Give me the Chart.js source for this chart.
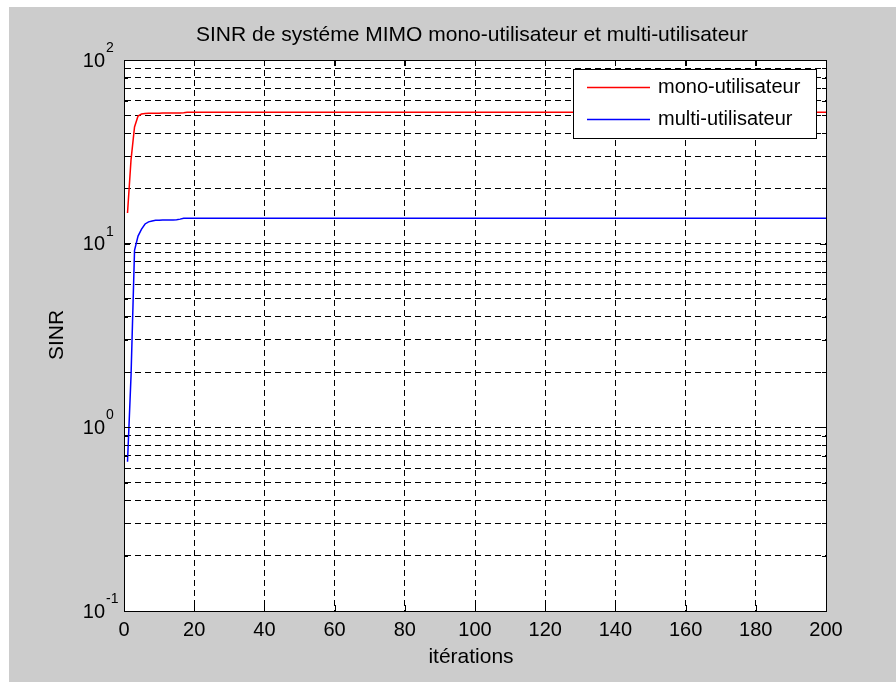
<!DOCTYPE html>
<html>
<head>
<meta charset="utf-8">
<script src="https://cdn.jsdelivr.net/npm/chart.js@4/dist/chart.umd.min.js"></script>
<style>
  html, body { margin: 0; padding: 0; background: #fff; }
  #wrap { width: 896px; height: 682px; }
</style>
</head>
<body>
<div id="wrap"><canvas id="chart" width="896" height="682"></canvas></div>
<script>
// iterations (flat after ~20 so only the last point is kept)
const iterations = [1, 2, 3, 4, 5, 6, 7, 8, 9, 10, 11, 12, 13, 14, 15, 16, 17, 18, 19, 20, 200];
const sinrMono = [14.7, 28.6, 43.2, 49.5, 50.8, 51.2, 51.3, 51.3, 51.3, 51.3, 51.4, 51.4, 51.4, 51.4, 51.4, 51.4, 51.6, 51.9, 51.9, 51.9, 51.9];
const sinrMulti = [0.65, 1.9, 9.2, 11.0, 12.0, 12.8, 13.15, 13.3, 13.4, 13.4, 13.45, 13.45, 13.45, 13.45, 13.5, 13.6, 13.75, 13.75, 13.75, 13.75, 13.75];

const xTicks = [0, 20, 40, 60, 80, 100, 120, 140, 160, 180, 200];
const yGrid = [0.1, 0.2, 0.3, 0.4, 0.5, 0.6, 0.7, 0.8, 0.9, 1, 2, 3, 4, 5, 6, 7, 8, 9, 10, 20, 30, 40, 50, 60, 70, 80, 90, 100];
const yDecades = [0.1, 1, 10, 100];
const yExponents = ["-1", "0", "1", "2"];

const seriesNames = ["mono-utilisateur", "multi-utilisateur"];
const seriesColors = ["#ff0000", "#0000ff"];

const FONT = '"Liberation Sans", Arial, sans-serif';

// fond gris, cadre, étiquettes et légende façon MATLAB
const matlabLook = {
  id: "matlabLook",
  beforeDraw(chart) {
    const { ctx, chartArea: a } = chart;
    ctx.save();
    ctx.fillStyle = "#ffffff";
    ctx.fillRect(0, 0, chart.width, chart.height);
    ctx.fillStyle = "#cccccc";
    ctx.fillRect(9, 7, chart.width - 9, chart.height - 7);
    ctx.fillStyle = "#ffffff";
    ctx.fillRect(a.left, a.top, a.right - a.left, a.bottom - a.top);
    ctx.restore();
  },
  afterDraw(chart) {
    const { ctx, chartArea: a } = chart;
    const xs = chart.scales.x, ys = chart.scales.y;
    ctx.save();

    // ticks
    ctx.strokeStyle = "#000";
    ctx.lineWidth = 1;
    ctx.beginPath();
    xTicks.forEach(v => {
      const px = Math.round(xs.getPixelForValue(v)) + 0.5;
      ctx.moveTo(px, a.bottom); ctx.lineTo(px, a.bottom - 6);
      ctx.moveTo(px, a.top); ctx.lineTo(px, a.top + 6);
    });
    yGrid.forEach(v => {
      const py = Math.round(ys.getPixelForValue(v)) + 0.5;
      const len = yDecades.includes(v) ? 6 : 4;
      ctx.moveTo(a.left, py); ctx.lineTo(a.left + len, py);
      ctx.moveTo(a.right, py); ctx.lineTo(a.right - len, py);
    });
    ctx.stroke();

    // frame
    ctx.strokeRect(Math.round(a.left) + 0.5, Math.round(a.top) + 0.5,
      Math.round(a.right - a.left), Math.round(a.bottom - a.top));

    ctx.fillStyle = "#000";
    ctx.textBaseline = "middle";

    // x tick labels
    ctx.font = "20px " + FONT;
    ctx.textAlign = "center";
    xTicks.forEach(v => ctx.fillText(String(v), xs.getPixelForValue(v), 630));

    // y tick labels 10^n
    yDecades.forEach((v, i) => {
      const py = ys.getPixelForValue(v);
      ctx.font = "20px " + FONT;
      ctx.textAlign = "right";
      ctx.fillText("10", 105, py + 1);
      ctx.font = "14px " + FONT;
      ctx.textAlign = "left";
      ctx.fillText(yExponents[i], 106, py - 12);
    });

    // title + axis titles
    ctx.font = "21px " + FONT;
    ctx.textAlign = "center";
    ctx.fillText("SINR de systéme MIMO mono-utilisateur et multi-utilisateur", 472, 35);
    ctx.fillText("itérations", 471, 657);
    ctx.save();
    ctx.translate(57, 335);
    ctx.rotate(-Math.PI / 2);
    ctx.fillText("SINR", 0, 0);
    ctx.restore();

    // legend
    const lx = 573, ly = 69, lw = 243, lh = 69;
    ctx.fillStyle = "#fff";
    ctx.fillRect(lx, ly, lw, lh);
    ctx.strokeStyle = "#000";
    ctx.strokeRect(lx + 0.5, ly + 0.5, lw, lh);
    ctx.font = "20px " + FONT;
    ctx.textAlign = "left";
    const rows = [87.5, 119.5];
    seriesNames.forEach((name, i) => {
      ctx.strokeStyle = seriesColors[i];
      ctx.lineWidth = 1.5;
      ctx.beginPath();
      ctx.moveTo(587, rows[i]); ctx.lineTo(650, rows[i]);
      ctx.stroke();
      ctx.fillStyle = "#000";
      ctx.fillText(name, 658, rows[i]);
    });

    ctx.restore();
  }
};

const gridStyle = { color: "#000000", lineWidth: 1, drawTicks: false, borderDash: [6, 4] };
const borderStyle = { display: true, color: "#000000", dash: [6, 4] };

new Chart(document.getElementById("chart"), {
  type: "line",
  data: {
    datasets: [
      {
        label: seriesNames[0],
        data: iterations.map((x, i) => ({ x, y: sinrMono[i] })),
        borderColor: seriesColors[0],
        borderWidth: 1.5,
        pointRadius: 0,
        tension: 0
      },
      {
        label: seriesNames[1],
        data: iterations.map((x, i) => ({ x, y: sinrMulti[i] })),
        borderColor: seriesColors[1],
        borderWidth: 1.5,
        pointRadius: 0,
        tension: 0
      }
    ]
  },
  options: {
    responsive: false,
    animation: false,
    devicePixelRatio: 1,
    layout: { padding: { top: 60, right: 70, left: 0, bottom: 0 } },
    plugins: {
      legend: { display: false },
      title: { display: false },
      tooltip: { enabled: false }
    },
    scales: {
      x: {
        type: "linear",
        min: 0,
        max: 200,
        afterBuildTicks: s => { s.ticks = xTicks.map(v => ({ value: v })); },
        afterFit: s => { s.height = 71; },
        ticks: { display: false },
        grid: gridStyle,
        border: borderStyle
      },
      y: {
        type: "logarithmic",
        min: 0.1,
        max: 100,
        afterBuildTicks: s => { s.ticks = yGrid.map(v => ({ value: v })); },
        afterFit: s => { s.width = 124; },
        ticks: { display: false },
        grid: gridStyle,
        border: borderStyle
      }
    }
  },
  plugins: [matlabLook]
});
</script>
</body>
</html>
